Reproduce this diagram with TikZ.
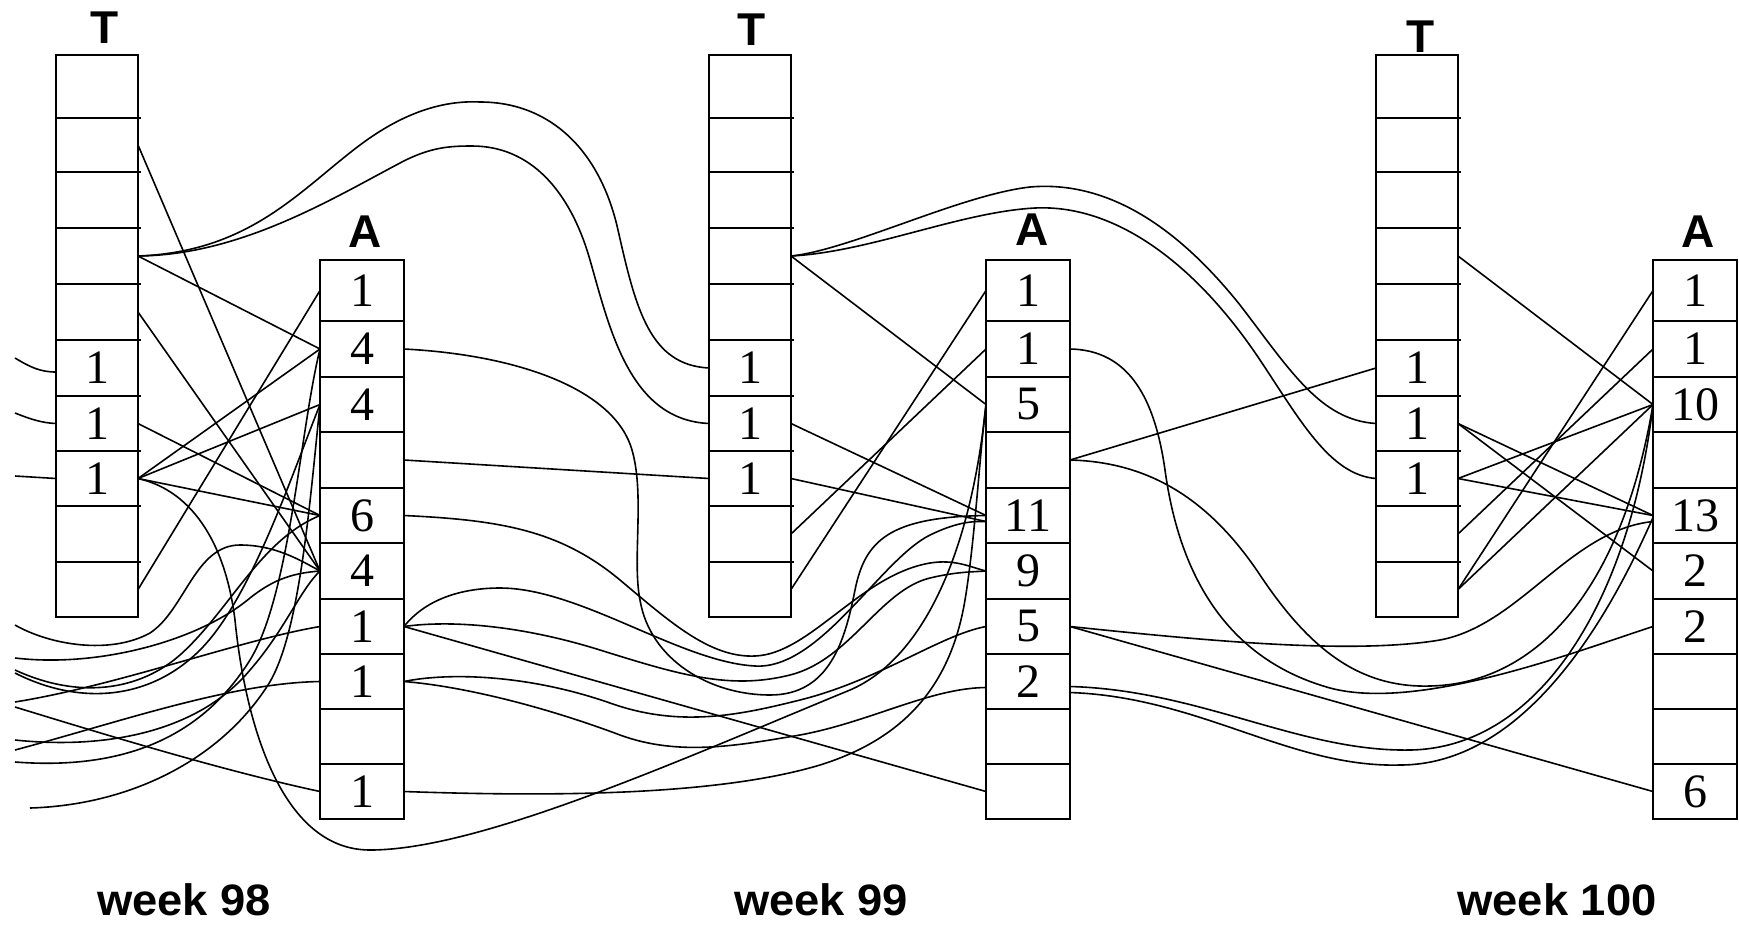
\documentclass[tikz,border=0pt]{standalone}
\usepackage{fontspec}
\setmainfont{Liberation Serif}
\newfontfamily\headfont{Liberation Sans}
\tikzset{
  cell/.style={rectangle, draw=black, line width=1.1pt, inner sep=0pt, outer sep=0pt, anchor=north west, font=\fontsize{24}{24}\selectfont},
  tcell/.style={cell, minimum width=41pt},
  acell/.style={cell, minimum width=42pt},
  head/.style={font=\headfont\bfseries\fontsize{23}{23}\selectfont, inner sep=0pt, anchor=base},
  week/.style={font=\headfont\bfseries\fontsize{22}{22}\selectfont, inner sep=0pt, anchor=base},
  link/.style={line width=0.8pt},
  tick/.style={line width=1.1pt},
}
\begin{document}
\begin{tikzpicture}[x=0.5pt, y=-0.5pt]
\useasboundingbox (0,0) rectangle (1739,927);
\foreach \i/\ytop/\cellh in {1/55/63, 2/118/54, 3/172/56, 4/228/56, 5/284/56, 6/340/56, 7/396/55, 8/451/55, 9/506/56, 10/562/55}
  \foreach \col/\x in {T1/56, T2/709, T3/1376}
    \node[tcell, minimum height=\cellh*0.5pt] (\col-\i) at (\x,\ytop) {\ifnum\i>5 \ifnum\i<9 1\fi\fi};
\foreach \i/\ytop/\cellh/\la/\lb/\lc in {1/260/61/1/1/1, 2/321/56/4/1/1, 3/377/55/4/5/10, 4/432/56/{}/{}/{}, 5/488/55/6/11/13, 6/543/56/4/9/2, 7/599/55/1/5/2, 8/654/55/1/2/{}, 9/709/55/{}/{}/{}, 10/764/55/1/{}/6}{
  \node[acell, minimum height=\cellh*0.5pt] (A1-\i) at (320,\ytop) {\la};
  \node[acell, minimum height=\cellh*0.5pt] (A2-\i) at (986,\ytop) {\lb};
  \node[acell, minimum height=\cellh*0.5pt] (A3-\i) at (1653,\ytop) {\lc};
}
\foreach \col in {T1,T2,T3}
  \foreach \i in {1,...,9}
    \draw[tick] (\col-\i.south east) -- ++(3,0);

\node[head] (headT1) at (105,43) {T};
\node[head] (headT2) at (752,45) {T};
\node[head] (headT3) at (1421,52) {T};
\node[head] (headA1) at (365,247) {A};
\node[head] (headA2) at (1032,245) {A};
\node[head] (headA3) at (1698,247) {A};
\node[week] (week98) at (184,915) {\scalebox{1.03}[1]{week 98}};
\node[week] (week99) at (821,915) {\scalebox{1.03}[1]{week 99}};
\node[week] (week100) at (1557,915) {\scalebox{1.03}[1]{week 100}};

\coordinate (prev-1) at (15,358);
\coordinate (prev-2) at (15,413);
\coordinate (prev-3) at (15,476);
\coordinate (prev-4) at (15,625);
\coordinate (prev-5) at (15,658);
\coordinate (prev-6) at (15,670);
\coordinate (prev-7) at (15,673);
\coordinate (prev-8) at (15,702);
\coordinate (prev-9) at (15,707);
\coordinate (prev-10) at (15,740);
\coordinate (prev-11) at (15,750);
\coordinate (prev-12) at (15,762);
\coordinate (prev-13) at (30,808);

\draw[link] (prev-1) .. controls (30,367) and (40,372) .. ([yshift=-2pt]T1-6.west);
\draw[link] (prev-2) .. controls (30,419) and (42,423) .. (T1-7.west);
\draw[link] (prev-3) -- (T1-8.west);
\draw[link] (prev-4) .. controls (50,645) and (110,655) .. (150,633) .. controls (185,610) and (195,545) .. (240,545) .. controls (275,545) and (300,560) .. (A1-6.west);
\draw[link] (prev-5) .. controls (100,668) and (200,640) .. (250,598) .. controls (275,578) and (295,573) .. (A1-6.west);
\draw[link] (prev-6) .. controls (80,700) and (140,690) .. (180,655) .. controls (230,610) and (260,540) .. (A1-5.west);
\draw[link] (prev-7) .. controls (80,706) and (150,700) .. (200,650) .. controls (250,600) and (290,480) .. (A1-3.west);
\draw[link] (prev-8) .. controls (120,685) and (240,640) .. (A1-7.west);
\draw[link] (prev-9) .. controls (100,733) and (220,770) .. (A1-10.west);
\draw[link] (prev-10) .. controls (110,750) and (200,730) .. (250,670) .. controls (285,630) and (300,590) .. (A1-6.west);
\draw[link] (prev-11) .. controls (120,722) and (230,683) .. (A1-8.west);
\draw[link] (prev-12) .. controls (120,770) and (200,740) .. (250,660) .. controls (290,595) and (300,430) .. (A1-2.west);
\draw[link] (prev-13) .. controls (130,805) and (220,760) .. (268,685) .. controls (300,635) and (310,500) .. (A1-3.west);

\draw[link] (T1-2.east) -- (A1-6.west);
\draw[link] (T1-4.east) -- (A1-2.west);
\draw[link] (T1-5.east) -- (A1-6.west);
\draw[link] (T1-7.east) -- (A1-5.west);
\draw[link] (T1-8.east) -- (A1-2.west);
\draw[link] (T1-8.east) -- (A1-3.west);
\draw[link] (T1-8.east) -- (A1-5.west);
\draw[link] (T1-10.east) -- (A1-1.west);
\draw[link] (T1-4.east) .. controls (250,252) and (300,190) .. (360,145) .. controls (400,115) and (440,100) .. (480,102) .. controls (550,102) and (600,150) .. (618,230) .. controls (636,310) and (650,365) .. (T2-6.west);
\draw[link] (T1-4.east) .. controls (240,255) and (330,200) .. (400,163) .. controls (430,147) and (450,146) .. (472,146) .. controls (530,146) and (570,190) .. (590,260) .. controls (610,330) and (630,420) .. (T2-7.west);
\draw[link] (T1-8.east) .. controls (190,490) and (225,540) .. (235,620) .. controls (245,720) and (280,850) .. (370,850) .. controls (480,850) and (680,760) .. (850,690) .. controls (920,660) and (970,560) .. (A2-3.west);

\draw[link] (A1-4.east) -- (T2-8.west);
\draw[link] (A1-2.east) .. controls (520,355) and (615,390) .. (632,450) .. controls (645,495) and (632,560) .. (640,600) .. controls (650,660) and (710,695) .. (770,695) .. controls (830,695) and (845,640) .. (855,590) .. controls (865,540) and (890,517) .. (A2-5.west);
\draw[link] (A1-5.east) .. controls (500,520) and (560,530) .. (620,580) .. controls (670,622) and (710,658) .. (755,656) .. controls (810,654) and (860,575) .. (930,563) .. controls (955,559) and (970,567) .. (A2-6.west);
\draw[link] (A1-7.east) .. controls (425,600) and (460,588) .. (500,588) .. controls (580,588) and (680,662) .. (755,666) .. controls (820,670) and (880,560) .. (930,535) .. controls (955,523) and (970,521) .. ([yshift=-3pt]A2-5.west);
\draw[link] (A1-7.east) .. controls (450,620) and (520,625) .. (600,650) .. controls (680,675) and (730,690) .. (790,675) .. controls (850,660) and (880,590) .. (930,578) .. controls (955,572) and (970,572) .. (A2-6.west);
\draw[link] (A1-7.east) -- (A2-10.west);
\draw[link] (A1-8.east) .. controls (450,672) and (530,675) .. (610,703) .. controls (680,728) and (740,715) .. (800,700) .. controls (880,680) and (940,635) .. (A2-7.west);
\draw[link] (A1-8.east) .. controls (460,686) and (540,705) .. (620,735) .. controls (680,757) and (740,745) .. (800,735) .. controls (870,722) and (930,688) .. ([yshift=-3pt]A2-8.west);
\draw[link] (A1-10.east) .. controls (560,797) and (720,795) .. (820,765) .. controls (900,740) and (950,690) .. (965,600) .. controls (975,540) and (980,450) .. (A2-3.west);

\draw[link] (T2-4.east) -- (A2-3.west);
\draw[link] (T2-7.east) -- (A2-5.west);
\draw[link] (T2-8.east) -- ([yshift=-3pt]A2-5.west);
\draw[link] (T2-9.east) -- (A2-2.west);
\draw[link] (T2-10.east) -- (A2-1.west);
\draw[link] (T2-4.east) .. controls (850,250) and (960,195) .. (1030,187) .. controls (1110,180) and (1180,230) .. (1240,305) .. controls (1290,370) and (1320,420) .. (T3-7.west);
\draw[link] (T2-4.east) .. controls (870,252) and (960,212) .. (1035,208) .. controls (1120,204) and (1200,270) .. (1260,360) .. controls (1300,420) and (1330,475) .. (T3-8.west);

\draw[link] (A2-4.east) -- (T3-6.west);
\draw[link] (A2-2.east) .. controls (1130,350) and (1155,400) .. (1165,470) .. controls (1180,580) and (1230,660) .. (1330,688) .. controls (1420,712) and (1580,650) .. (A3-7.west);
\draw[link] (A2-4.east) .. controls (1150,462) and (1210,500) .. (1260,575) .. controls (1310,650) and (1360,688) .. (1430,686) .. controls (1530,684) and (1620,600) .. (A3-3.west);
\draw[link] (A2-7.east) .. controls (1200,640) and (1350,655) .. (1440,640) .. controls (1520,625) and (1570,530) .. ([yshift=-3pt]A3-5.west);
\draw[link] (A2-7.east) -- (A3-10.west);
\draw[link] ([yshift=-2.5pt]A2-8.east) .. controls (1200,690) and (1300,752) .. (1410,750) .. controls (1540,748) and (1630,600) .. (A3-3.west);
\draw[link] ([yshift=-5.5pt]A2-8.east) .. controls (1200,697) and (1290,768) .. (1400,765) .. controls (1540,765) and (1625,580) .. ([yshift=-1pt]A3-5.west);

\draw[link] (T3-4.east) -- (A3-3.west);
\draw[link] (T3-7.east) -- (A3-5.west);
\draw[link] (T3-7.east) -- (A3-6.west);
\draw[link] (T3-8.east) -- (A3-3.west);
\draw[link] (T3-8.east) -- (A3-5.west);
\draw[link] (T3-9.east) -- (A3-2.west);
\draw[link] (T3-10.east) -- (A3-1.west);
\draw[link] (T3-10.east) -- (A3-3.west);
\end{tikzpicture}
\end{document}
